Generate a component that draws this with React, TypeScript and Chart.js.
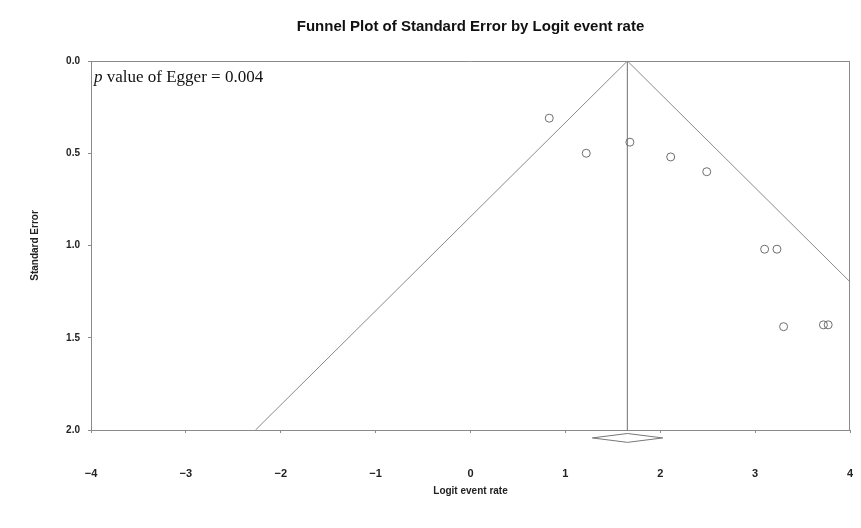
import React, { useEffect, useRef } from 'react';
import { Chart, registerables } from 'chart.js';

Chart.register(...registerables);

// ---- data ----
const studyLogit = [0.83, 1.22, 1.68, 2.11, 2.49, 3.10, 3.23, 3.30, 3.72, 3.77];
const studySE = [0.31, 0.50, 0.44, 0.52, 0.60, 1.02, 1.02, 1.44, 1.43, 1.43];
const pooledLogit = 1.654;
const pooledLower = 1.284;
const pooledUpper = 2.026;
const xTickValues = [-4, -3, -2, -1, 0, 1, 2, 3, 4];
const yTickValues = [0, 0.5, 1.0, 1.5, 2.0];
const eggerP = '0.004';
const chartTitle = 'Funnel Plot of Standard Error by Logit event rate';
const xTitle = 'Logit event rate';
const yTitle = 'Standard Error';

const Z = 1.96;
const SE_MAX = 2;
const LINE = '#8a8a8a';

export default function App() {
  const ref = useRef<HTMLCanvasElement | null>(null);

  useEffect(() => {
    if (!ref.current) return;

    const diamondY = SE_MAX + 0.043;
    const diamondH = 0.024;

    const framePlugin = {
      id: 'frame',
      beforeDatasetsDraw(chart: any) {
        const { ctx, chartArea: a } = chart;
        ctx.save();
        ctx.strokeStyle = LINE;
        ctx.lineWidth = 1;
        ctx.beginPath();
        ctx.moveTo(a.left, a.top + 0.5);
        ctx.lineTo(a.right, a.top + 0.5);
        ctx.moveTo(a.right - 0.5, a.top);
        ctx.lineTo(a.right - 0.5, a.bottom);
        ctx.stroke();
        ctx.restore();
      },
      afterDraw(chart: any) {
        const { ctx, chartArea: a } = chart;
        ctx.save();
        // title
        ctx.fillStyle = '#111';
        ctx.font = 'bold 15px "Liberation Sans Narrow", "Liberation Sans", Arial, sans-serif';
        ctx.textAlign = 'center';
        ctx.textBaseline = 'middle';
        ctx.fillText(chartTitle, (a.left + a.right) / 2, 27);
        // annotation
        ctx.textAlign = 'left';
        ctx.textBaseline = 'alphabetic';
        ctx.fillStyle = '#111';
        const x0 = a.left + 3;
        const y0 = a.top + 21;
        ctx.font = 'italic 17px "Liberation Serif", "Times New Roman", serif';
        ctx.fillText('p', x0, y0);
        const w = ctx.measureText('p ').width;
        ctx.font = '17px "Liberation Serif", "Times New Roman", serif';
        ctx.fillText('value of Egger = ' + eggerP, x0 + w, y0);
        ctx.restore();
      },
    };

    const chart = new Chart(ref.current, {
      type: 'scatter',
      data: {
        datasets: [
          {
            label: 'studies',
            data: studyLogit.map((x, i) => ({ x, y: studySE[i] })),
            pointStyle: 'circle',
            pointRadius: 4,
            borderColor: '#6e6e6e',
            backgroundColor: 'rgba(0,0,0,0)',
            borderWidth: 1,
            order: 1,
          },
          {
            label: 'funnel',
            data: [
              { x: pooledLogit - Z * SE_MAX, y: SE_MAX },
              { x: pooledLogit, y: 0 },
              { x: pooledLogit + Z * SE_MAX, y: SE_MAX },
            ],
            showLine: true,
            pointRadius: 0,
            borderColor: LINE,
            borderWidth: 1,
            order: 2,
          },
          {
            label: 'pooled',
            data: [
              { x: pooledLogit, y: 0 },
              { x: pooledLogit, y: SE_MAX },
            ],
            showLine: true,
            pointRadius: 0,
            borderColor: LINE,
            borderWidth: 1,
            order: 2,
          },
          {
            label: 'diamond',
            data: [
              { x: pooledLower, y: diamondY },
              { x: pooledLogit, y: diamondY - diamondH },
              { x: pooledUpper, y: diamondY },
              { x: pooledLogit, y: diamondY + diamondH },
              { x: pooledLower, y: diamondY },
            ],
            showLine: true,
            pointRadius: 0,
            borderColor: '#777',
            borderWidth: 1,
            clip: false,
            order: 2,
          } as any,
        ],
      },
      options: {
        animation: false,
        responsive: false,
        layout: { padding: { top: 61, right: 11, left: 0, bottom: 0 } },
        plugins: {
          legend: { display: false },
          tooltip: { enabled: false },
          title: { display: false },
        },
        scales: {
          x: {
            type: 'linear',
            min: -4,
            max: 4,
            afterBuildTicks: (s: any) => {
              s.ticks = xTickValues.map((v) => ({ value: v }));
            },
            afterFit: (s: any) => {
              s.height = 98;
              s.paddingLeft = 0;
              s.paddingRight = 0;
            },
            grid: { drawOnChartArea: false, drawTicks: true, tickLength: 3, color: LINE },
            border: { color: LINE },
            ticks: {
              padding: 34,
              maxRotation: 0,
              color: '#222',
              font: { family: '"Liberation Sans", Arial, sans-serif', size: 11, weight: 'bold' },
              callback: (v: any) => String(v).replace('-', '\u2212'),
            },
            title: {
              display: true,
              text: xTitle,
              color: '#222',
              font: { family: '"Liberation Sans", Arial, sans-serif', size: 10, weight: 'bold' },
              padding: { top: 0, bottom: 31 },
            },
          },
          y: {
            type: 'linear',
            reverse: true,
            min: 0,
            max: SE_MAX,
            afterBuildTicks: (s: any) => {
              s.ticks = yTickValues.map((v) => ({ value: v }));
            },
            afterFit: (s: any) => {
              s.width = 91;
              s.paddingTop = 0;
              s.paddingBottom = 0;
            },
            grid: { drawOnChartArea: false, drawTicks: true, tickLength: 3, color: LINE },
            border: { color: LINE },
            ticks: {
              padding: 8,
              color: '#222',
              font: { family: '"Liberation Sans", Arial, sans-serif', size: 10, weight: 'bold' },
              callback: (v: any) => Number(v).toFixed(1),
            },
            title: {
              display: true,
              text: yTitle,
              color: '#222',
              font: { family: '"Liberation Sans", Arial, sans-serif', size: 10, weight: 'bold' },
              padding: { top: 29, bottom: 0 },
            },
          },
        },
      },
      plugins: [framePlugin],
    } as any);

    return () => chart.destroy();
  }, []);

  return (
    <div style={{ position: 'fixed', left: 0, top: 0, width: 861, height: 528, background: '#fff' }}>
      <canvas ref={ref} width={861} height={528} />
    </div>
  );
}
